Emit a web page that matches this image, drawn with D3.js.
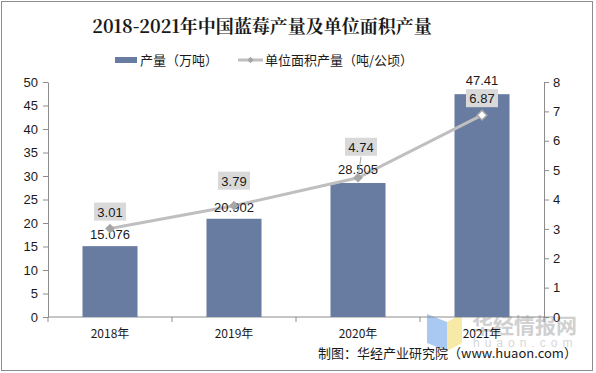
<!DOCTYPE html>
<html>
<head>
<meta charset="utf-8">
<script src="https://cdn.jsdelivr.net/npm/d3@7"></script>
<style>
  body { margin: 0; background: #fff; }
  svg { display: block; font-family: "Liberation Sans", Arial, sans-serif; }
</style>
</head>
<body>
<svg id="chart" width="596" height="373"></svg>
<script>
const years = ['2018年', '2019年', '2020年', '2021年'];
const output = [15.076, 20.902, 28.505, 47.41];      // 产量（万吨）
const perArea = [3.01, 3.79, 4.74, 6.87];            // 单位面积产量（吨/公顷）
const leftTicks = [0, 5, 10, 15, 20, 25, 30, 35, 40, 45, 50];
const rightTicks = [0, 1, 2, 3, 4, 5, 6, 7, 8];

const cjk = '"Noto Sans CJK SC", sans-serif';
const barColor = '#687BA0';
const lineColor = '#BFBFBF';

const svg = d3.select('#chart');

// border
svg.append('rect')
  .attr('x', 1.5).attr('y', 1.5)
  .attr('width', 591).attr('height', 369)
  .attr('fill', 'none').attr('stroke', '#8c8c8c');

// title
svg.append('text')
  .attr('x', 262).attr('y', 33)
  .attr('text-anchor', 'middle')
  .style('font-family', '"Noto Serif CJK SC", "DejaVu Serif", ' + cjk)
  .style('font-weight', 'bold')
  .style('font-size', '18px')
  .attr('fill', '#1a1a1a')
  .text('2018-2021年中国蓝莓产量及单位面积产量');

// scales
const x = d3.scaleBand().domain(years).range([48, 544]);
const yL = d3.scaleLinear().domain([0, 50]).range([317, 82]);
const yR = d3.scaleLinear().domain([0, 8]).range([317, 82]);

// watermark
const wm = svg.append('g');
wm.append('path').attr('d', 'M427,314 L447,322 L447,351 L427,343 Z').attr('fill', '#a9c8f2');
wm.append('path').attr('d', 'M447,322 L462,314 L462,343 L447,351 Z').attr('fill', '#f7e9a6');
wm.append('text').attr('x', 472).attr('y', 333)
  .style('font-family', cjk).style('font-weight', 'bold').style('font-size', '21px')
  .attr('fill', '#d0d0d0').text('华经情报网');
wm.append('text').attr('x', 473).attr('y', 347)
  .style('font-size', '12px').attr('letter-spacing', '5px')
  .attr('fill', '#d8d8d8').text('huaon.com');

// left axis
const axL = svg.append('g').attr('transform', 'translate(48,0)')
  .call(d3.axisLeft(yL).tickValues(leftTicks).tickSize(5).tickSizeOuter(0));
// right axis
const axR = svg.append('g').attr('transform', 'translate(544,0)')
  .call(d3.axisRight(yR).tickValues(rightTicks).tickSize(5).tickSizeOuter(0));
// bottom axis with ticks at band boundaries
const axB = svg.append('g').attr('transform', 'translate(0,317)');
axB.append('line').attr('x1', 48).attr('x2', 544).attr('stroke', '#8c8c8c');
axB.selectAll('line.tk')
  .data(years.map(d => x(d)).concat([x.range()[1]]))
  .join('line').attr('class', 'tk')
  .attr('x1', d => d).attr('x2', d => d)
  .attr('y1', 0).attr('y2', 5).attr('stroke', '#8c8c8c');
axB.selectAll('text')
  .data(years).join('text')
  .attr('x', d => x(d) + x.bandwidth() / 2)
  .attr('y', 21)
  .attr('text-anchor', 'middle')
  .style('font-family', cjk).style('font-size', '12px')
  .attr('fill', '#1a1a1a')
  .text(d => d);

[axL, axR].forEach(a => {
  a.select('.domain').attr('stroke', '#8c8c8c');
  a.selectAll('.tick line').attr('stroke', '#8c8c8c');
  a.selectAll('.tick text')
    .style('font-size', '13px')
    .style('font-family', '"Liberation Sans", Arial, sans-serif')
    .attr('fill', '#1a1a1a');
});
axL.selectAll('.tick text').attr('x', -10);
axR.selectAll('.tick text').attr('x', 9);

// bars
const barW = 55;
svg.selectAll('rect.bar')
  .data(output).join('rect').attr('class', 'bar')
  .attr('x', (d, i) => x(years[i]) + x.bandwidth() / 2 - barW / 2)
  .attr('y', d => yL(d))
  .attr('width', barW)
  .attr('height', d => yL(0) - yL(d))
  .attr('fill', barColor);

// line
const cx = i => x(years[i]) + x.bandwidth() / 2;
const line = d3.line().x((d, i) => cx(i)).y(d => yR(d));
svg.append('path')
  .datum(perArea)
  .attr('d', line)
  .attr('fill', 'none')
  .attr('stroke', lineColor)
  .attr('stroke-width', 3);

// bar labels
const barLabelDy = [-12, -12, -14, -14];
svg.selectAll('text.bl')
  .data(output).join('text').attr('class', 'bl')
  .attr('x', (d, i) => cx(i))
  .attr('y', (d, i) => yL(d) + barLabelDy[i] + 5)
  .attr('text-anchor', 'middle')
  .style('font-size', '13px')
  .attr('fill', '#1a1a1a')
  .text(d => d);

// leader for 4.74
svg.append('line')
  .attr('x1', cx(2)).attr('y1', yR(perArea[2]))
  .attr('x2', cx(2) + 3).attr('y2', yR(perArea[2]) - 21)
  .attr('stroke', '#a6a6a6');

// markers
svg.selectAll('path.mk')
  .data(perArea).join('path').attr('class', 'mk')
  .attr('transform', (d, i) => `translate(${cx(i)},${yR(d)})`)
  .attr('d', d3.symbol(d3.symbolDiamond2, 60))
  .attr('fill', (d, i) => i === 3 ? '#ffffff' : '#a6a6a6')
  .attr('stroke', (d, i) => i === 3 ? '#a6a6a6' : 'none')
  .attr('stroke-width', 1.5);

// line label boxes
const boxOff = [[0, -17], [0, -25], [3, -31], [0, -17]];
const lbl = svg.selectAll('g.ll')
  .data(perArea).join('g').attr('class', 'll')
  .attr('transform', (d, i) => `translate(${cx(i) + boxOff[i][0]},${yR(d) + boxOff[i][1]})`);
lbl.append('rect')
  .attr('x', -16).attr('y', -9)
  .attr('width', 32).attr('height', 18)
  .attr('fill', '#d9d9d9');
lbl.append('text')
  .attr('y', 5)
  .attr('text-anchor', 'middle')
  .style('font-size', '13px')
  .attr('fill', '#1a1a1a')
  .text(d => d);

// legend
const lg = svg.append('g').style('font-family', cjk).style('font-size', '13px');
lg.append('rect').attr('x', 115).attr('y', 57).attr('width', 22).attr('height', 6).attr('fill', barColor);
lg.append('text').attr('x', 140).attr('y', 65).attr('fill', '#1a1a1a').text('产量（万吨）');
lg.append('line').attr('x1', 238).attr('x2', 263).attr('y1', 60).attr('y2', 60)
  .attr('stroke', lineColor).attr('stroke-width', 3);
lg.append('path').attr('transform', 'translate(250.5,60)')
  .attr('d', d3.symbol(d3.symbolDiamond2, 25)).attr('fill', '#a6a6a6');
lg.append('text').attr('x', 265).attr('y', 65).attr('fill', '#1a1a1a').text('单位面积产量（吨/公顷）');

// source
svg.append('text')
  .attr('x', 318).attr('y', 358)
  .style('font-family', cjk).style('font-size', '13px')
  .attr('fill', '#1a1a1a')
  .text('制图：华经产业研究院（www.huaon.com）');
</script>
</body>
</html>
